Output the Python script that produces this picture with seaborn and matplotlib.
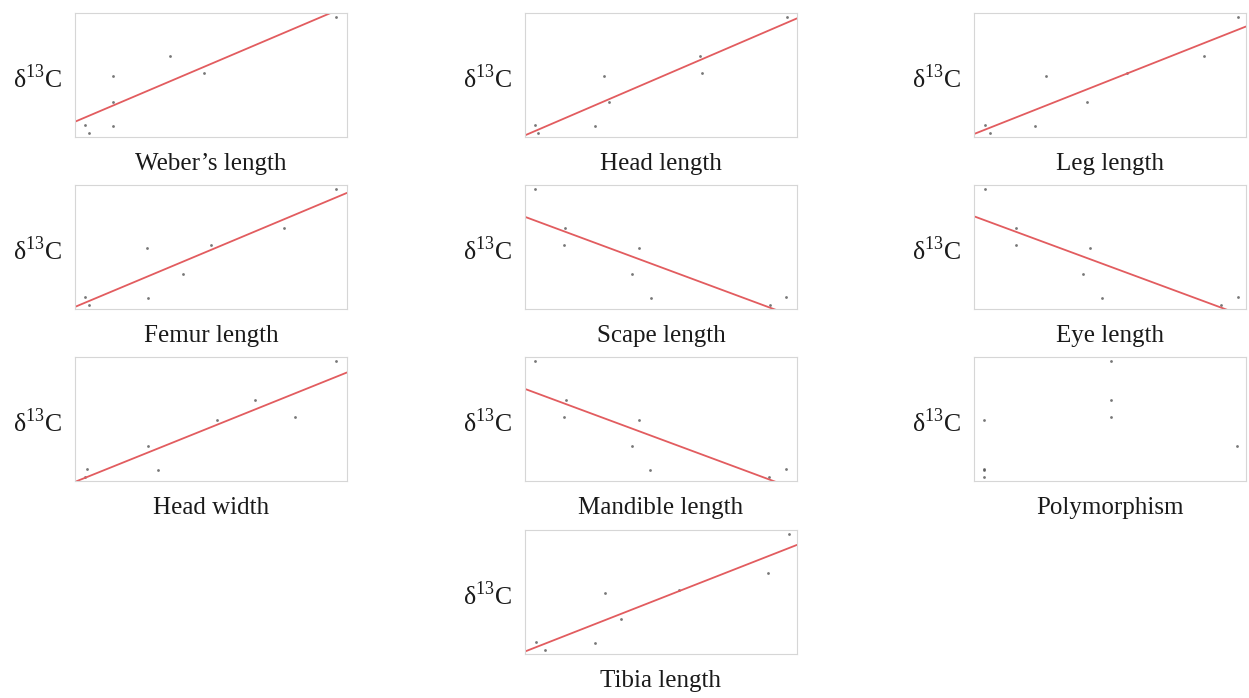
import matplotlib
matplotlib.use("Agg")

import matplotlib.pyplot as plt
import seaborn as sns

sns.set_theme(style="white")
plt.rcParams["font.family"] = ["Liberation Serif", "DejaVu Serif"]
plt.rcParams["mathtext.fontset"] = "custom"
plt.rcParams["mathtext.rm"] = "Liberation Serif"

# delta 13C of the eight species (relative scale)
d13c = [0.03, 0.09, 0.10, 0.28, 0.49, 0.52, 0.65, 0.965]

# trait values per species (relative scale, same species order as d13c)
webers_length = [0.052, 0.14, 0.037, 0.14, 0.138, 0.476, 0.35, 0.96]
head_length = [0.049, 0.256, 0.037, 0.31, 0.29, 0.651, 0.643, 0.963]
leg_length = [0.058, 0.226, 0.04, 0.415, 0.265, 0.562, 0.844, 0.972]
femur_length = [0.052, 0.27, 0.037, 0.396, 0.266, 0.50, 0.77, 0.96]
scape_length = [0.90, 0.464, 0.96, 0.395, 0.42, 0.145, 0.147, 0.037]
eye_length = [0.908, 0.47, 0.97, 0.40, 0.427, 0.153, 0.156, 0.04]
head_width = [0.035, 0.306, 0.043, 0.267, 0.523, 0.808, 0.663, 0.96]
mandible_length = [0.898, 0.461, 0.96, 0.394, 0.419, 0.144, 0.149, 0.037]
polymorphism = [0.038, 0.038, 0.038, 0.967, 0.038, 0.502, 0.502, 0.502]
tibia_length = [0.074, 0.256, 0.042, 0.354, 0.293, 0.566, 0.893, 0.969]

panels = [
    ("Weber\u2019s length", webers_length, 0, 0, True),
    ("Head length", head_length, 0, 1, True),
    ("Leg length", leg_length, 0, 2, True),
    ("Femur length", femur_length, 1, 0, True),
    ("Scape length", scape_length, 1, 1, True),
    ("Eye length", eye_length, 1, 2, True),
    ("Head width", head_width, 2, 0, True),
    ("Mandible length", mandible_length, 2, 1, True),
    ("Polymorphism", polymorphism, 2, 2, False),
    ("Tibia length", tibia_length, 3, 1, True),
]

W, H = 1249, 698
col_left = [75, 525, 974]
row_top = [13, 185, 357, 530]
pw, ph = 272, 124

fig = plt.figure(figsize=(W / 100, H / 100), dpi=100)

for name, xs, r, c, fit in panels:
    ax = fig.add_axes([col_left[c] / W, 1 - (row_top[r] + ph) / H, pw / W, ph / H])
    ax.set_xlim(0, 1)
    ax.set_ylim(0, 1)
    sns.regplot(
        x=xs,
        y=d13c,
        ax=ax,
        ci=None,
        truncate=False,
        fit_reg=fit,
        scatter_kws={"s": 4, "color": "#555555", "linewidths": 0},
        line_kws={"color": "#e25c5f", "lw": 1.3},
    )
    ax.set_xlim(0, 1)
    ax.set_ylim(0, 1)
    ax.set_xticks([])
    ax.set_yticks([])
    for sp in ax.spines.values():
        sp.set_color("#d6d6d6")
        sp.set_linewidth(0.8)

    ax.set_xlabel(name, fontsize=18, color="#1a1a1a", va="center")
    ax.xaxis.set_label_coords(0.5, -27 / ph)
    ax.set_ylabel(r"δ$^{\mathrm{13}}$C", fontsize=18.5, color="#1a1a1a",
                  rotation=0, ha="right", va="center")
    ax.yaxis.set_label_coords(-13 / pw, 0.47)

fig.savefig("out.png", dpi=100)
